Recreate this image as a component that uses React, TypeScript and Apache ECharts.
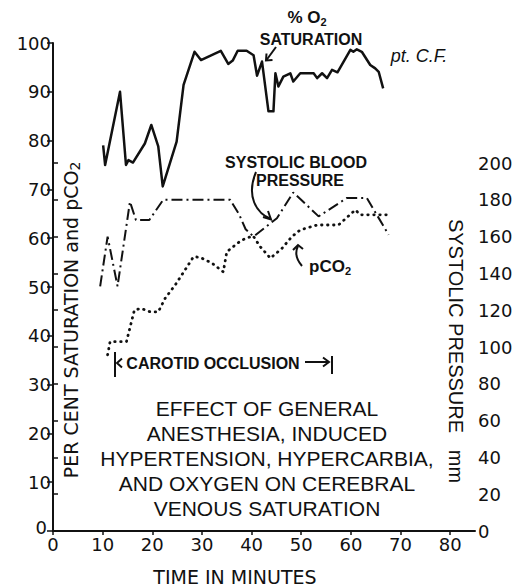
import React, { useEffect, useRef } from "react";
import * as echarts from "echarts";

// Time (minutes) and values
const o2Times = [10.1, 10.5, 13.5, 14.7, 15.2, 16.1, 18.5, 19.8, 21.2, 22.1, 24.9, 26.3, 28.5, 29.8, 33.8, 35.3, 36.2, 37.2, 39.0, 40.4, 41.1, 42.1, 43.4, 44.4, 44.8, 45.4, 46.4, 47.8, 48.4, 49.8, 52.5, 53.2, 54.2, 55.2, 56.2, 57.3, 59.9, 60.5, 61.2, 62.2, 63.9, 64.9, 65.6, 66.5];
const o2Values = [79, 75, 90, 75, 76, 75.5, 79.4, 83.2, 78.8, 70.6, 79.8, 91.4, 98.2, 96.5, 98.4, 95.7, 96.4, 98.4, 98.4, 97.5, 93.3, 96.2, 86, 86, 93.8, 91.1, 93.1, 93.8, 92.1, 93.8, 93.8, 92.8, 93.8, 92.8, 94.5, 94.0, 98.6, 98.2, 98.7, 98.2, 95.5, 94.8, 94.1, 90.7];

const bpTimes = [9.5, 11.0, 13.0, 15.5, 16.7, 19.4, 22.2, 35.7, 37.5, 38.8, 40.4, 45.1, 48.4, 53.5, 59.2, 63.2, 67.6];
const bpValues = [133, 160, 133, 179, 169, 169, 180, 180, 172, 164, 160, 170, 184, 171, 181, 181, 161];

const co2Times = [11.0, 11.5, 14.8, 16.4, 17.8, 19.6, 21.2, 22.6, 24.6, 26.6, 28.3, 29.6, 32.0, 34.3, 35.0, 36.7, 38.0, 40.3, 41.7, 43.8, 46.1, 48.1, 49.8, 53.2, 57.5, 60.9, 61.9, 67.6];
const co2Values = [36.1, 38.8, 38.8, 45.3, 45.6, 44.9, 44.9, 47.7, 50.4, 53.5, 56.2, 56.1, 54.9, 53.1, 57.2, 58.6, 59.6, 60.5, 58.3, 55.9, 57.9, 60.3, 61.7, 62.7, 62.7, 65.8, 64.8, 64.8];

const xTickValues = [0, 10, 20, 30, 40, 50, 60, 70, 80];
const leftTickValues = [0, 10, 20, 30, 40, 50, 60, 70, 80, 90, 100];
const rightTickValues = [0, 20, 40, 60, 80, 100, 120, 140, 160, 180, 200];

const titleLines = [
  "EFFECT OF GENERAL",
  "ANESTHESIA, INDUCED",
  "HYPERTENSION, HYPERCARBIA,",
  "AND OXYGEN ON CEREBRAL",
  "VENOUS SATURATION",
];

const INK = "#111";
const TICK_FONT = "DejaVu Sans";
const LETTER_FONT = "Liberation Sans";

export default function App() {
  const ref = useRef<HTMLDivElement>(null);

  useEffect(() => {
    if (!ref.current) return;
    const chart = echarts.init(ref.current, null, { renderer: "svg" });

    const pair = (ts: number[], vs: number[]) => ts.map((t, i) => [t, vs[i]]);

    const axisCommon = {
      axisLine: { show: true, lineStyle: { color: INK, width: 2 } },
      splitLine: { show: false },
    };

    const sub = { fontSize: 11, fontWeight: "bold", fontFamily: LETTER_FONT, fill: INK, lineHeight: 12, verticalAlign: "bottom" };
    const subPlain = { fontSize: 14, fontFamily: TICK_FONT, fill: INK, lineHeight: 14, verticalAlign: "bottom" };

    const txt = (text: string, x: number, y: number, extra: any = {}) => ({
      type: "text",
      x,
      y,
      silent: true,
      style: {
        text,
        fill: INK,
        fontFamily: LETTER_FONT,
        fontSize: 16,
        fontWeight: "bold",
        align: "center",
        verticalAlign: "middle",
        ...extra,
      },
    });

    const stroke = { stroke: INK, lineWidth: 2, fill: null };

    const graphics: any[] = [
      // % O2 SATURATION label and arrow
      txt("% O{s|2}", 307, 17, { fontSize: 17, lineHeight: 20, rich: { s: sub } }),
      txt("SATURATION", 311, 39),
      { type: "line", silent: true, shape: { x1: 276, y1: 47, x2: 266.5, y2: 60 }, style: stroke },
      { type: "polyline", silent: true, shape: { points: [[266.5, 53.5], [266, 60.5], [272.5, 60]] }, style: stroke },
      txt("pt. C.F.", 419, 56, { fontStyle: "italic", fontWeight: "normal", fontSize: 18 }),
      // systolic label and curved arrow
      txt("SYSTOLIC BLOOD", 296, 162),
      txt("PRESSURE", 300, 180),
      { type: "bezierCurve", silent: true, shape: { x1: 256, y1: 172, cpx1: 246, cpy1: 196, cpx2: 256, cpy2: 213, x2: 271, y2: 219 }, style: stroke },
      { type: "polyline", silent: true, shape: { points: [[263, 217], [271, 219.5], [268, 211]] }, style: stroke },
      // pCO2 label and arrow
      txt("pCO{s|2}", 330, 266, { fontSize: 17, lineHeight: 20, rich: { s: sub } }),
      { type: "bezierCurve", silent: true, shape: { x1: 302, y1: 266, cpx1: 296, cpy1: 259, cpx2: 295, cpy2: 252, x2: 298, y2: 246 }, style: stroke },
      { type: "polyline", silent: true, shape: { points: [[293, 250], [298, 245], [303, 249]] }, style: stroke },
      // carotid occlusion
      { type: "line", silent: true, shape: { x1: 115, y1: 352, x2: 115, y2: 377 }, style: stroke },
      { type: "polyline", silent: true, shape: { points: [[122, 358.5], [117, 363], [122, 367.5]] }, style: stroke },
      txt("CAROTID OCCLUSION", 213, 363),
      { type: "line", silent: true, shape: { x1: 305, y1: 362, x2: 329, y2: 362 }, style: stroke },
      { type: "polyline", silent: true, shape: { points: [[323, 357.5], [329, 362], [323, 366.5]] }, style: stroke },
      { type: "line", silent: true, shape: { x1: 332, y1: 356, x2: 332, y2: 374 }, style: stroke },
      // axis names
      {
        type: "text", silent: true, x: 71, y: 320, rotation: Math.PI / 2,
        style: {
          text: "PER CENT SATURATION and pCO{s|2}", fill: INK, fontFamily: TICK_FONT, fontSize: 19,
          align: "center", verticalAlign: "middle", lineHeight: 22, rich: { s: subPlain },
        },
      },
      {
        type: "text", silent: true, x: 456, y: 351, rotation: -Math.PI / 2,
        style: {
          text: "SYSTOLIC PRESSURE   mm", fill: INK, fontFamily: LETTER_FONT, fontSize: 20,
          align: "center", verticalAlign: "middle",
        },
      },
      txt("TIME IN MINUTES", 235, 577, { fontFamily: TICK_FONT, fontWeight: "normal", fontSize: 19 }),
      // big title block
      ...titleLines.map((line, i) =>
        txt(line, 267, 408 + i * 25, { fontWeight: "normal", fontSize: 21 })
      ),
    ];

    chart.setOption({
      animation: false,
      backgroundColor: "#fff",
      grid: [
        { left: 53, right: 50, top: 43, bottom: 57 },
        { left: 53, right: 50, top: 163, bottom: 57 },
      ],
      xAxis: [
        {
          gridIndex: 0, type: "value", min: 0, max: 85, interval: 10,
          ...axisCommon,
          axisTick: { show: true, length: 4, customValues: xTickValues, lineStyle: { color: INK, width: 1.5 } },
          axisLabel: { customValues: xTickValues, fontFamily: TICK_FONT, fontSize: 18, color: INK, margin: 4 },
        },
        { gridIndex: 1, type: "value", min: 0, max: 85, show: false },
      ],
      yAxis: [
        {
          gridIndex: 0, type: "value", min: 0, max: 100, interval: 10,
          ...axisCommon,
          axisTick: { show: true, length: 6, customValues: leftTickValues, lineStyle: { color: INK, width: 1.5 } },
          axisLabel: {
            customValues: leftTickValues, fontFamily: TICK_FONT, fontSize: 18, color: INK, margin: 2,
            formatter: (v: number) => (v === 0 ? "{z|0}" : String(v)),
            rich: { z: { fontFamily: TICK_FONT, fontSize: 18, color: INK, padding: [0, 4, 8, 0] } },
          },
        },
        {
          gridIndex: 1, type: "value", position: "right", min: 0, max: 200, interval: 20,
          ...axisCommon,
          axisTick: { show: true, length: 5, customValues: rightTickValues, lineStyle: { color: INK, width: 1.5 } },
          axisLabel: { customValues: rightTickValues, fontFamily: TICK_FONT, fontSize: 18, color: INK, margin: 3 },
        },
      ],
      series: [
        {
          name: "% O2 saturation", type: "line", xAxisIndex: 0, yAxisIndex: 0,
          data: pair(o2Times, o2Values), symbol: "none", silent: true,
          lineStyle: { color: INK, width: 2.5, join: "round" },
        },
        {
          name: "pCO2", type: "line", xAxisIndex: 0, yAxisIndex: 0,
          data: pair(co2Times, co2Values), symbol: "none", silent: true,
          lineStyle: { color: INK, width: 2.8, type: [0.5, 5.5], cap: "round" },
        },
        {
          name: "Systolic blood pressure", type: "line", xAxisIndex: 1, yAxisIndex: 1,
          data: pair(bpTimes, bpValues), symbol: "none", silent: true,
          lineStyle: { color: INK, width: 2, type: [11, 4, 2, 4] },
        },
      ],
      graphic: graphics,
    });

    return () => chart.dispose();
  }, []);

  return (
    <div
      ref={ref}
      style={{ position: "absolute", left: 0, top: 0, width: 525, height: 588 }}
    />
  );
}
